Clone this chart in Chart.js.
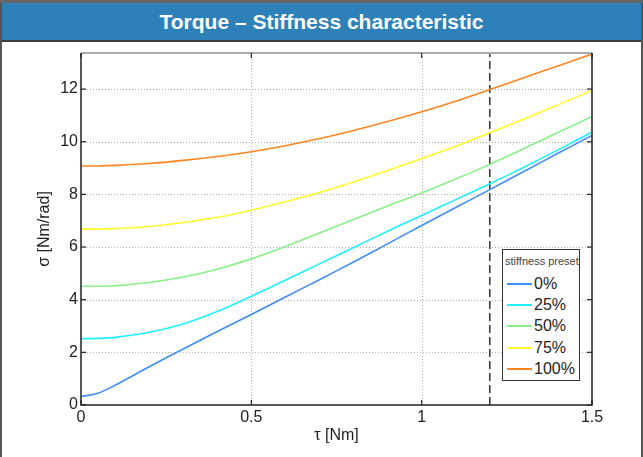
<!DOCTYPE html>
<html>
<head>
<meta charset="utf-8">
<script src="https://cdn.jsdelivr.net/npm/chart.js@4"></script>
<style>
  body { margin: 0; background: #fff; }
  #page { position: relative; width: 643px; height: 457px; overflow: hidden; font-family: "Liberation Sans", Arial, sans-serif; }
  #chart { position: absolute; left: 0; top: 0; }
  #frameL { position: absolute; left: 0; top: 0; width: 2px; height: 457px; background: #555; }
  #frameR { position: absolute; left: 641px; top: 0; width: 2px; height: 457px; background: #555; }
  #frameT { position: absolute; left: 0; top: 0; width: 643px; height: 3px; background: #666; }
  #titlebar {
    position: absolute; left: 2px; top: 3px; width: 639px; height: 37px;
    background: #2e80b8; border-bottom: 2px solid #3c3c3c;
    color: #fff; font-weight: bold; font-size: 21px; line-height: 37px; text-align: center;
  }
  #legend {
    position: absolute; left: 502px; top: 249px; width: 76px; height: 130px;
    border: 1.5px solid #333; background: #fff;
  }
  #legend .ttl { position: absolute; left: 2px; top: 5px; font-size: 11px; color: #444; white-space: nowrap; }
  #legend .row { position: absolute; left: 4px; height: 20px; font-size: 16px; color: #222; white-space: nowrap; }
  #legend .sw { position: absolute; left: 0; top: 9px; width: 25px; height: 0; border-top: 2px solid; }
  #legend .lb { position: absolute; left: 27px; top: 0; line-height: 20px; }
</style>
</head>
<body>
<div id="page">
  <canvas id="chart" width="643" height="457"></canvas>
  <div id="frameL"></div>
  <div id="frameR"></div>
  <div id="frameT"></div>
  <div id="titlebar">Torque – Stiffness characteristic</div>
  <div id="legend"><div class="ttl">stiffness preset</div></div>
</div>
<script>
// Torque values (x axis)
const tau = [0, 0.05, 0.1, 0.2, 0.3, 0.4, 0.5, 0.6, 0.7, 0.8, 0.9, 1.0, 1.1, 1.2, 1.3, 1.4, 1.5];

// Stiffness per preset
const sigma0   = [0.32, 0.45, 0.75, 1.45, 2.13, 2.79, 3.44, 4.10, 4.76, 5.43, 6.12, 6.82, 7.50, 8.18, 8.87, 9.56, 10.24];
const sigma25  = [2.52, 2.53, 2.57, 2.76, 3.08, 3.55, 4.13, 4.74, 5.36, 5.98, 6.60, 7.20, 7.80, 8.40, 9.03, 9.69, 10.37];
const sigma50  = [4.51, 4.51, 4.53, 4.65, 4.86, 5.16, 5.55, 6.02, 6.53, 7.05, 7.56, 8.05, 8.58, 9.14, 9.74, 10.35, 10.96];
const sigma75  = [6.68, 6.68, 6.70, 6.78, 6.93, 7.13, 7.40, 7.72, 8.07, 8.47, 8.91, 9.36, 9.83, 10.34, 10.86, 11.40, 11.95];
const sigma100 = [9.08, 9.08, 9.10, 9.17, 9.29, 9.44, 9.62, 9.85, 10.12, 10.43, 10.77, 11.14, 11.54, 11.98, 12.43, 12.88, 13.33];

const presetNames = ["0%", "25%", "50%", "75%", "100%"];
const presetColors = ["#3d8ef5", "#1ff0ff", "#88f088", "#ffff2a", "#ff8520"];
const presetData = [sigma0, sigma25, sigma50, sigma75, sigma100];

// Marked torque limit
const tauLimit = 1.2;

// Axes
const xTicks = [0, 0.5, 1, 1.5];
const yTicks = [0, 2, 4, 6, 8, 10, 12];
const xMin = 0, xMax = 1.5;
const yMin = 0, yMax = 13.37;

const datasets = presetData.map((vals, i) => ({
    label: presetNames[i],
    data: vals.map((v, j) => ({ x: tau[j], y: v })),
    borderColor: presetColors[i],
    borderWidth: 1.6,
    pointRadius: 0,
    tension: 0.3,
    fill: false
}));

datasets.push({
    label: "limit",
    data: [{ x: tauLimit, y: yMin }, { x: tauLimit, y: yMax }],
    borderColor: "#333",
    borderWidth: 1.5,
    borderDash: [8, 4],
    pointRadius: 0
});

// Legend (html)
const legend = document.getElementById("legend");
presetNames.forEach((name, i) => {
    let row = document.createElement("div");
    row.className = "row";
    row.style.top = (24 + i * 21.2) + "px";
    row.innerHTML = '<div class="sw" style="border-color:' + presetColors[i] + '"></div><div class="lb">' + name + '</div>';
    legend.appendChild(row);
});

// Frame, dotted grid and inward ticks
const framePlugin = {
    id: "frame",
    beforeDatasetsDraw(chart) {
        const ctx = chart.ctx;
        const a = chart.chartArea;
        const xs = chart.scales.x, ys = chart.scales.y;
        ctx.save();
        ctx.strokeStyle = "#b4b4b4";
        ctx.lineWidth = 1;
        ctx.setLineDash([1, 2]);
        xTicks.forEach(v => {
            if (v === xMin || v === xMax) return;
            let px = Math.round(xs.getPixelForValue(v)) + 0.5;
            ctx.beginPath(); ctx.moveTo(px, a.top); ctx.lineTo(px, a.bottom); ctx.stroke();
        });
        yTicks.forEach(v => {
            if (v === yMin) return;
            let py = Math.round(ys.getPixelForValue(v)) + 0.5;
            ctx.beginPath(); ctx.moveTo(a.left, py); ctx.lineTo(a.right, py); ctx.stroke();
        });
        ctx.restore();
    },
    afterDatasetsDraw(chart) {
        const ctx = chart.ctx;
        const a = chart.chartArea;
        const xs = chart.scales.x, ys = chart.scales.y;
        ctx.save();
        ctx.setLineDash([]);
        // top edge
        ctx.strokeStyle = "#aaa";
        ctx.lineWidth = 2;
        ctx.beginPath(); ctx.moveTo(a.left, a.top); ctx.lineTo(a.right, a.top); ctx.stroke();
        // left, bottom, right
        ctx.strokeStyle = "#222";
        ctx.lineWidth = 1.5;
        ctx.beginPath();
        ctx.moveTo(a.left, a.top); ctx.lineTo(a.left, a.bottom); ctx.lineTo(a.right, a.bottom); ctx.lineTo(a.right, a.top);
        ctx.stroke();
        // ticks
        ctx.lineWidth = 1.2;
        xTicks.forEach(v => {
            let px = xs.getPixelForValue(v);
            ctx.beginPath(); ctx.moveTo(px, a.bottom); ctx.lineTo(px, a.bottom - 5); ctx.stroke();
            ctx.beginPath(); ctx.moveTo(px, a.top); ctx.lineTo(px, a.top + 5); ctx.stroke();
        });
        yTicks.forEach(v => {
            let py = ys.getPixelForValue(v);
            ctx.beginPath(); ctx.moveTo(a.left, py); ctx.lineTo(a.left + 5, py); ctx.stroke();
            ctx.beginPath(); ctx.moveTo(a.right, py); ctx.lineTo(a.right - 5, py); ctx.stroke();
        });
        ctx.restore();
    }
};

new Chart(document.getElementById("chart"), {
    type: "line",
    data: { datasets: datasets },
    options: {
        responsive: false,
        animation: false,
        events: [],
        layout: { padding: { top: 53, right: 51, left: 0, bottom: 0 } },
        plugins: {
            legend: { display: false },
            tooltip: { enabled: false }
        },
        scales: {
            x: {
                type: "linear",
                min: xMin,
                max: xMax,
                afterBuildTicks: s => { s.ticks = xTicks.map(v => ({ value: v })); },
                afterFit: s => { s.height = 52; },
                grid: { display: false, drawTicks: false },
                border: { display: false },
                ticks: {
                    padding: 3,
                    color: "#222",
                    font: { family: "Liberation Sans", size: 16 },
                    maxRotation: 0,
                    callback: v => String(v)
                },
                title: {
                    display: true,
                    text: "τ [Nm]",
                    color: "#222",
                    font: { family: "Liberation Sans", size: 16 },
                    padding: { top: 0, bottom: 12 }
                }
            },
            y: {
                min: yMin,
                max: yMax,
                afterBuildTicks: s => { s.ticks = yTicks.map(v => ({ value: v })); },
                afterFit: s => { s.width = 81; },
                grid: { display: false, drawTicks: false },
                border: { display: false },
                ticks: {
                    padding: 3,
                    color: "#222",
                    font: { family: "Liberation Sans", size: 16 }
                },
                title: {
                    display: true,
                    text: "σ [Nm/rad]",
                    color: "#222",
                    font: { family: "Liberation Sans", size: 16 },
                    padding: { top: 35, bottom: 0 }
                }
            }
        }
    },
    plugins: [framePlugin]
});
</script>
</body>
</html>
